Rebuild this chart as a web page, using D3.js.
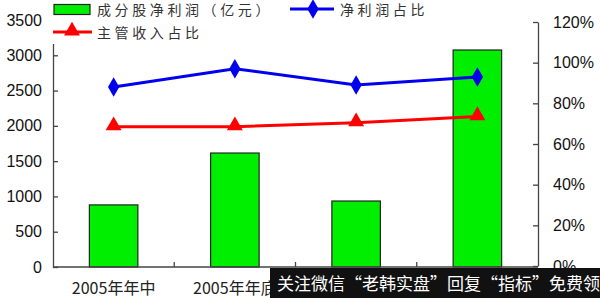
<!DOCTYPE html>
<html>
<head>
<meta charset="utf-8">
<script src="https://cdn.jsdelivr.net/npm/d3@7"></script>
<style>
  html, body { margin: 0; padding: 0; background: #fff; }
  svg { display: block; }
</style>
</head>
<body>
<svg id="chart" width="600" height="298"></svg>
<script>
// Periods on the category axis
const categories = ["2005年年中", "2005年年底", "2006年年中", "2006年年底"];
// Net profit of constituent stocks (100 million yuan)
const netProfit = [880, 1615, 935, 3075];
// Share of net profit (%)
const profitShare = [88, 97, 89, 93];
// Share of main business revenue (%)
const revenueShare = [68.5, 68.5, 70.5, 73.5];

const leftTicks = [0, 500, 1000, 1500, 2000, 2500, 3000, 3500];
const rightTicks = [0, 20, 40, 60, 80, 100, 120];

const svg = d3.select("#chart");
const margin = { left: 53, right: 62, top: 20, bottom: 31 };
const W = 600, H = 298;
const x0 = margin.left, x1 = W - margin.right;
const yBottom = H - margin.bottom, yTop = margin.top;
const bannerX = 270, bannerY = 268;

const x = d3.scaleBand().domain(categories).range([x0, x1]).paddingInner(0).paddingOuter(0);
const yL = d3.scaleLinear().domain([0, 3500]).range([yBottom, yTop]);
const yR = d3.scaleLinear().domain([0, 120]).range([yBottom - 1, yTop + 2]);

const axisColor = "#444";
const numFont = "'Liberation Sans', Arial, sans-serif";
const cjkFont = "'Noto Sans CJK SC', sans-serif";

// Bars
const barW = x.bandwidth() * 0.4;
svg.append("g").selectAll("rect").data(netProfit).join("rect")
  .attr("x", (d, i) => x(categories[i]) + (x.bandwidth() - barW) / 2)
  .attr("y", d => yL(d))
  .attr("width", barW)
  .attr("height", d => yBottom - yL(d))
  .attr("fill", "#00ee00")
  .attr("stroke", "#222")
  .attr("stroke-width", 1.2);

// Left axis
const leftAxis = d3.axisLeft(yL).tickValues(leftTicks).tickSizeInner(-5).tickSizeOuter(0).tickPadding(11)
  .tickFormat(d3.format("d"));
const gL = svg.append("g").attr("transform", `translate(${x0},0)`).call(leftAxis);
gL.select(".domain").attr("stroke", axisColor).attr("stroke-width", 1.3);
gL.selectAll(".tick line").attr("stroke", axisColor).attr("stroke-width", 1.3);
gL.selectAll(".tick text").attr("font-family", numFont).attr("font-size", 16).attr("fill", "#111");

// Right axis
const rightAxis = d3.axisRight(yR).tickValues(rightTicks).tickSizeInner(-5).tickSizeOuter(0).tickPadding(15)
  .tickFormat(d => d + "%");
const gR = svg.append("g").attr("transform", `translate(${x1},0)`).call(rightAxis);
gR.select(".domain").attr("stroke", axisColor).attr("stroke-width", 1.3);
gR.selectAll(".tick line").attr("stroke", axisColor).attr("stroke-width", 1.3);
gR.selectAll(".tick text").attr("font-family", numFont).attr("font-size", 16).attr("fill", "#111");

// Bottom axis with category separators
const gB = svg.append("g").attr("transform", `translate(0,${yBottom})`);
gB.append("line").attr("x1", x0).attr("x2", x1).attr("stroke", axisColor).attr("stroke-width", 1.3);
gB.selectAll("line.sep").data(categories.slice(1)).join("line")
  .attr("class", "sep")
  .attr("x1", d => x(d)).attr("x2", d => x(d)).attr("y1", 0).attr("y2", -5)
  .attr("stroke", axisColor).attr("stroke-width", 1.3);
// Category labels that sit left of the banner (the rest are hidden beneath it)
gB.selectAll("text").data(categories.filter(d => x(d) < bannerX)).join("text")
  .attr("x", d => x(d) + x.bandwidth() / 2)
  .attr("y", 27)
  .attr("text-anchor", "middle")
  .attr("font-family", cjkFont).attr("font-size", 16).attr("fill", "#222")
  .text(d => d);

// Lines
const cx = i => x(categories[i]) + x.bandwidth() / 2;
const line = d3.line().x((d, i) => cx(i)).y(d => yR(d));

svg.append("path").datum(revenueShare).attr("d", line)
  .attr("fill", "none").attr("stroke", "#ff0000").attr("stroke-width", 3);
svg.append("path").datum(profitShare).attr("d", line)
  .attr("fill", "none").attr("stroke", "#0000ee").attr("stroke-width", 3);

const tri = d3.symbol().type(d3.symbolTriangle).size(110);
const dia = d3.symbol().type(d3.symbolDiamond).size(110);

svg.append("g").selectAll("path").data(revenueShare).join("path")
  .attr("d", tri).attr("fill", "#ff0000")
  .attr("transform", (d, i) => `translate(${cx(i)},${yR(d) - 1})`);
svg.append("g").selectAll("path").data(profitShare).join("path")
  .attr("d", dia).attr("fill", "#0000ee")
  .attr("transform", (d, i) => `translate(${cx(i)},${yR(d)})`);

// Legend
const legend = svg.append("g");
legend.append("rect").attr("x", 50).attr("y", 0).attr("width", 470).attr("height", 44).attr("fill", "#fff");
legend.append("rect").attr("x", 54).attr("y", 4.5).attr("width", 36).attr("height", 10)
  .attr("fill", "#00ee00").attr("stroke", "#222").attr("stroke-width", 1.2);
legend.append("text").attr("x", 97).attr("y", 15).attr("font-family", cjkFont).attr("font-size", 14)
  .attr("letter-spacing", 3.6).attr("fill", "#333").text("成分股净利润（亿元）");

legend.append("line").attr("x1", 290).attr("x2", 334).attr("y1", 9).attr("y2", 9)
  .attr("stroke", "#0000ee").attr("stroke-width", 3);
legend.append("path").attr("d", dia).attr("fill", "#0000ee").attr("transform", "translate(313,9)");
legend.append("text").attr("x", 340).attr("y", 15).attr("font-family", cjkFont).attr("font-size", 14)
  .attr("letter-spacing", 3.6).attr("fill", "#333").text("净利润占比");

legend.append("line").attr("x1", 53).attr("x2", 92).attr("y1", 32).attr("y2", 32)
  .attr("stroke", "#ff0000").attr("stroke-width", 3);
legend.append("path").attr("d", tri).attr("fill", "#ff0000").attr("transform", "translate(72,31)");
legend.append("text").attr("x", 97).attr("y", 38).attr("font-family", cjkFont).attr("font-size", 14)
  .attr("letter-spacing", 3.6).attr("fill", "#333").text("主管收入占比");

// Overlay banner in the lower right corner
svg.append("rect").attr("x", bannerX).attr("y", bannerY).attr("width", W - bannerX).attr("height", H - bannerY).attr("fill", "#111");
svg.append("text").attr("x", bannerX + 7).attr("y", 290).attr("font-family", cjkFont).attr("font-size", 17)
  .attr("fill", "#fff").text("关注微信“老韩实盘”回复“指标”免费领");
</script>
</body>
</html>
